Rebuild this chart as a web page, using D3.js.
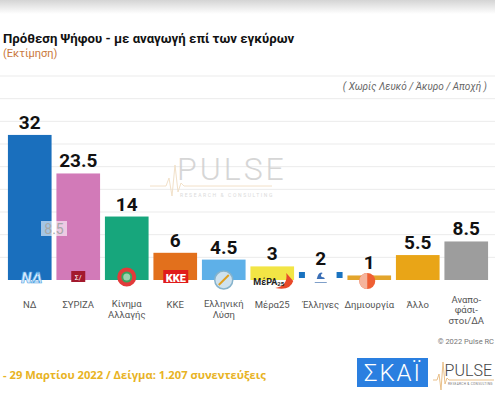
<!DOCTYPE html>
<html><head><meta charset="utf-8">
<script src="https://cdn.jsdelivr.net/npm/d3@7"></script>
<style>body{margin:0;background:#fff;overflow:hidden}svg{display:block}</style>
</head><body>
<svg id="c" width="495" height="400"></svg>
<script>
const categories = ["ΝΔ","ΣΥΡΙΖΑ","Κίνημα Αλλαγής","ΚΚΕ","Ελληνική Λύση","Μέρα25","Έλληνες","Δημιουργία","Άλλο","Αναποφάσιστοι/ΔΑ"];
const labelLines = [["ΝΔ"],["ΣΥΡΙΖΑ"],["Κίνημα","Αλλαγής"],["ΚΚΕ"],["Ελληνική","Λύση"],["Μέρα25"],["Έλληνες"],["Δημιουργία"],["Άλλο"],["Αναπο-","φάσι-","στοι/ΔΑ"]];
const values = [32, 23.5, 14, 6, 4.5, 3, 2, 1, 5.5, 8.5];
const valueLabels = ["32","23.5","14","6","4.5","3","2","1","5.5","8.5"];
const colors = ["#1a6fbd","#d27ab8","#17a67c","#e2701c","#5eb0e8","#f2e545","#ffffff","#e3a52c","#e9a517","#9d9d9d"];
const gridTicks = [5,10,15,20,25,30,35,40,45];

const svg = d3.select("#c");
const defs = svg.append("defs");
const g1 = defs.append("linearGradient").attr("id","sh").attr("x1",0).attr("x2",0).attr("y1",0).attr("y2",1);
g1.append("stop").attr("offset","0%").attr("stop-color","#d4d4d4");
g1.append("stop").attr("offset","100%").attr("stop-color","#ffffff");
svg.append("rect").attr("x",0).attr("y",0).attr("width",495).attr("height",14).attr("fill","url(#sh)");

const x = d3.scaleBand().domain(categories).range([5.5,490.5]).paddingInner(0.1).paddingOuter(0.05);
const y = d3.scaleLinear().domain([0,45]).range([280,76]);

// gridlines
svg.append("g").selectAll("line").data(gridTicks).join("line")
  .attr("x1",0).attr("x2",495).attr("y1",d=>y(d)).attr("y2",d=>y(d))
  .attr("stroke","#ebebeb").attr("stroke-width",1);

// titles
svg.append("text").attr("x",3).attr("y",43).text("Πρόθεση Ψήφου - με αναγωγή επί των εγκύρων")
  .attr("font-family","Roboto").attr("font-weight","bold").attr("font-size",13.2).attr("fill","#111");
svg.append("text").attr("x",3).attr("y",57).text("(Εκτίμηση)")
  .attr("font-family","Roboto").attr("font-size",11).attr("fill","#c9783c");
svg.append("text").attr("x",487).attr("y",90).attr("text-anchor","end").text("( Χωρίς Λευκό / Άκυρο / Αποχή )")
  .attr("font-family","Roboto").attr("font-style","italic").attr("font-size",10).attr("fill","#666");

// watermark
const wm = svg.append("g").attr("opacity",0.85);
wm.append("path").attr("d","M150,186 L166,186 L169,178 L172,196 L175,165 L178,192 L181,183 L184,186 L272,186")
  .attr("fill","none").attr("stroke","#f0dcc0").attr("stroke-width",1);
wm.append("text").attr("x",177).attr("y",180).text("PULSE").attr("font-family","Roboto").attr("font-weight",300)
  .attr("font-size",32).attr("letter-spacing",3).attr("fill","#cfcfcf");
wm.append("text").attr("x",180).attr("y",197).text("RESEARCH & CONSULTING").attr("font-family","Roboto")
  .attr("font-size",5).attr("letter-spacing",1.6).attr("fill","#d5d5d5");

// bars
svg.append("g").selectAll("rect").data(values).join("rect")
  .attr("x",(d,i)=>x(categories[i])).attr("width",x.bandwidth())
  .attr("y",d=>y(d)).attr("height",d=>y(0)-y(d))
  .attr("fill",(d,i)=>colors[i]);

// value labels
svg.append("g").selectAll("text").data(values).join("text")
  .attr("x",(d,i)=>x(categories[i])+x.bandwidth()/2).attr("y",d=>y(d)-6)
  .attr("text-anchor","middle").text((d,i)=>valueLabels[i])
  .attr("font-family","Roboto").attr("font-weight","bold").attr("font-size",19).attr("fill","#111");

// category labels
const lineY = {1:[308],2:[307,318],3:[303,313,324]};
categories.forEach((c,i)=>{
  const cx = x(c)+x.bandwidth()/2;
  const lines = labelLines[i];
  const t = svg.append("text").attr("text-anchor","middle").attr("font-family","Roboto")
    .attr("font-size",9.5).attr("fill","#555");
  lines.forEach((l,j)=>t.append("tspan").attr("x",cx).attr("y",lineY[lines.length][j]).text(l));
});

// logos (simplified)
const cxOf = i => x(categories[i])+x.bandwidth()/2;
const L = svg.append("g");
// ND
L.append("text").attr("x",cxOf(0)+2).attr("y",283).attr("text-anchor","middle").text("ΝΔ")
  .attr("font-family","Roboto").attr("font-weight",900).attr("font-style","italic").attr("font-size",15)
  .attr("fill","#d8ecff").attr("stroke","#4aa0e0").attr("stroke-width",0.6);
// SYRIZA
L.append("rect").attr("x",cxOf(1)-7).attr("y",271).attr("width",14).attr("height",11).attr("fill","#a3192d");
L.append("text").attr("x",cxOf(1)).attr("y",280).attr("text-anchor","middle").text("Σ/").attr("font-size",7).attr("fill","#fff").attr("font-family","Roboto");
// KINAL
L.append("circle").attr("cx",cxOf(2)).attr("cy",277).attr("r",7.5).attr("fill","#38a35e").attr("stroke","#e23a3a").attr("stroke-width",4);
L.append("circle").attr("cx",cxOf(2)).attr("cy",277).attr("r",3.5).attr("fill","#fff").attr("opacity",0.5);
// KKE
L.append("rect").attr("x",cxOf(3)-12).attr("y",270).attr("width",25).attr("height",13).attr("fill","#e01b1b");
L.append("text").attr("x",cxOf(3)+0.5).attr("y",282).attr("text-anchor","middle").text("ΚΚΕ")
  .attr("font-family","Roboto").attr("font-weight",900).attr("font-size",11).attr("fill","#fff");
// Ell. Lysi
L.append("circle").attr("cx",cxOf(4)).attr("cy",280).attr("r",9).attr("fill","#cfe2ee").attr("stroke","#86b3cc").attr("stroke-width",1.5);
L.append("path").attr("d",`M${cxOf(4)-5},${285} L${cxOf(4)+5},${275}`).attr("stroke","#e0a020").attr("stroke-width",2);
// MeRA25
L.append("path").attr("d",`M${cxOf(5)+3},${288} Q${cxOf(5)+16},${286} ${cxOf(5)+14},${273} L${cxOf(5)+21},${281} Q${cxOf(5)+18},${291} ${cxOf(5)+3},${288}Z`).attr("fill","#e8492a");
L.append("text").attr("x",cxOf(5)-19).attr("y",285).text("ΜέΡΑ").attr("font-family","Roboto").attr("font-weight","bold").attr("font-size",9).attr("fill","#222");
L.append("text").attr("x",cxOf(5)+5).attr("y",286).text("25").attr("font-family","Roboto").attr("font-weight","bold").attr("font-size",6).attr("fill","#222");
// Ellines
L.append("rect").attr("x",x(categories[6])).attr("y",272).attr("width",6).attr("height",6).attr("fill","#1a73c0");
L.append("rect").attr("x",x(categories[6])+x.bandwidth()-6).attr("y",272).attr("width",6).attr("height",6).attr("fill","#1a73c0");
L.append("path").attr("d",`M${cxOf(6)-4},${279} q2,-8 6,-6 q-3,2 -1,4 q3,0 3,2z`).attr("fill","#3b6fb6");
L.append("rect").attr("x",cxOf(6)-6).attr("y",282).attr("width",12).attr("height",1).attr("fill","#7f9fc9");
// Dimiourgia
L.append("circle").attr("cx",cxOf(7)-2).attr("cy",281).attr("r",8).attr("fill","#ef5f33");
L.append("path").attr("d",`M${cxOf(7)-2},273 A8,8 0 0 0 ${cxOf(7)-2},289 Z`).attr("fill","#f5b49c");

// tooltip artefact
svg.append("rect").attr("x",41).attr("y",221).attr("width",26).attr("height",15).attr("fill","#fff").attr("opacity",0.6);
svg.append("text").attr("x",54).attr("y",234).attr("text-anchor","middle").text("8.5")
  .attr("font-family","Roboto").attr("font-size",14).attr("fill","#a8a8a8");

// footer
svg.append("text").attr("x",494).attr("y",344).attr("text-anchor","end").text("© 2022 Pulse RC").attr("font-family","Roboto")
  .attr("font-size",7.5).attr("fill","#777");
svg.append("text").attr("x",3).attr("y",379).text("- 29  Μαρτίου  2022  /  Δείγμα:  1.207 συνεντεύξεις")
  .attr("font-family","Open Sans").attr("font-weight","bold").attr("font-size",11.2).attr("fill","#e8b324");
svg.append("rect").attr("x",357).attr("y",358).attr("width",71).attr("height",29).attr("fill","#2a7fe0");
svg.append("text").attr("x",393).attr("y",381).attr("text-anchor","middle").text("ΣΚΑΪ")
  .attr("font-family","Roboto").attr("font-weight",300).attr("font-size",24).attr("letter-spacing",2).attr("fill","#fff");
svg.append("path").attr("d","M433,380 L437,380 L439,374 L441,390 L443,362 L445,384 L447,378 L449,380 L494,380")
  .attr("fill","none").attr("stroke","#e9c08a").attr("stroke-width",1);
svg.append("text").attr("x",492).attr("y",376).attr("text-anchor","end").text("PULSE").attr("font-family","Roboto").attr("font-weight",300)
  .attr("font-size",16).attr("fill","#444");
svg.append("text").attr("x",448).attr("y",385).text("RESEARCH & CONSULTING").attr("font-family","Roboto")
  .attr("font-size",3.2).attr("letter-spacing",0.3).attr("fill","#777");
</script>
</body></html>
